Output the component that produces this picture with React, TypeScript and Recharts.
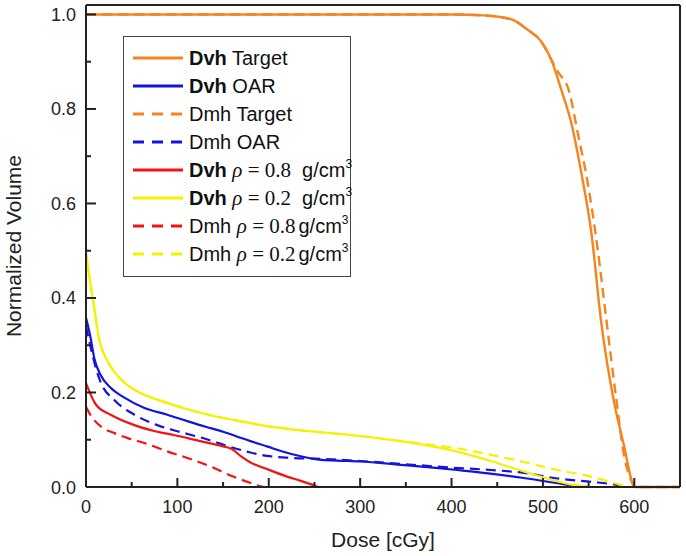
import { LineChart, Line, XAxis, YAxis } from 'recharts';

document.body.style.margin = '0';

type Pt = [number, number];

// [dose in cGy, normalized volume]
const DVH_TARGET: Pt[] = [
  [0, 1.0], [100, 1.0], [200, 1.0], [300, 1.0], [400, 1.0], [435, 0.998], [465, 0.99],
  [483, 0.968], [498, 0.943], [509, 0.905], [520, 0.841], [531, 0.771], [542, 0.665],
  [553, 0.538], [564, 0.345], [578, 0.178], [589, 0.085], [598, 0.008], [600, 0], [650, 0],
];

const DMH_TARGET: Pt[] = [
  [0, 1.0], [100, 1.0], [200, 1.0], [300, 1.0], [400, 1.0], [435, 0.998], [465, 0.99],
  [483, 0.968], [498, 0.943], [509, 0.905], [516, 0.88], [529, 0.835], [538, 0.75],
  [549, 0.644], [560, 0.502], [569, 0.36], [580, 0.19], [589, 0.064], [598, 0.008], [600, 0], [650, 0],
];

const DVH_OAR: Pt[] = [
  [0, 0.358], [5, 0.316], [9, 0.273], [16, 0.237], [27, 0.21], [42, 0.189], [64, 0.167],
  [89, 0.153], [110, 0.14], [130, 0.128], [150, 0.117], [165, 0.107], [180, 0.097],
  [198, 0.086], [215, 0.075], [235, 0.065], [255, 0.058], [275, 0.056], [300, 0.054],
  [344, 0.047], [380, 0.041], [406, 0.036], [440, 0.029], [479, 0.019], [516, 0.008],
  [538, 0.002], [550, 0], [650, 0],
];

const DMH_OAR: Pt[] = [
  [0, 0.34], [7, 0.28], [12, 0.244], [16, 0.222], [31, 0.184], [53, 0.153], [78, 0.131],
  [100, 0.118], [125, 0.105], [145, 0.093], [161, 0.083], [180, 0.073], [198, 0.066],
  [220, 0.062], [250, 0.06], [300, 0.055], [344, 0.049], [400, 0.041], [443, 0.036],
  [479, 0.03], [516, 0.018], [553, 0.011], [582, 0.004], [592, 0], [650, 0],
];

const DVH_RHO_08: Pt[] = [
  [0, 0.22], [11, 0.174], [27, 0.153], [53, 0.131], [78, 0.117], [96, 0.11], [125, 0.097],
  [150, 0.086], [160, 0.08], [169, 0.066], [180, 0.052], [198, 0.038], [220, 0.022],
  [235, 0.013], [249, 0.004], [255, 0], [650, 0],
];

const DVH_RHO_02: Pt[] = [
  [0, 0.495], [5, 0.428], [9, 0.379], [14, 0.316], [20, 0.28], [31, 0.244], [45, 0.216],
  [64, 0.195], [89, 0.178], [110, 0.165], [134, 0.153], [161, 0.142], [198, 0.129],
  [235, 0.12], [290, 0.11], [333, 0.1], [370, 0.089], [406, 0.075], [443, 0.055],
  [479, 0.033], [501, 0.02], [534, 0.004], [553, 0], [650, 0],
];

const DMH_RHO_08: Pt[] = [
  [0, 0.17], [5, 0.152], [17, 0.127], [31, 0.114], [45, 0.104], [67, 0.091], [88, 0.076],
  [110, 0.062], [125, 0.052], [145, 0.036], [161, 0.022], [178, 0.01], [190, 0.002],
  [195, 0], [650, 0],
];

const DMH_RHO_02: Pt[] = [
  [0, 0.495], [5, 0.428], [9, 0.379], [14, 0.316], [20, 0.28], [31, 0.244], [45, 0.216],
  [64, 0.195], [89, 0.178], [110, 0.165], [134, 0.153], [161, 0.142], [198, 0.129],
  [235, 0.12], [290, 0.11], [333, 0.1], [370, 0.091], [406, 0.082], [443, 0.068],
  [479, 0.053], [516, 0.036], [553, 0.022], [575, 0.01], [600, 0], [650, 0],
];

const X_TICKS = [0, 50, 100, 150, 200, 250, 300, 350, 400, 450, 500, 550, 600];
const Y_TICKS = [0, 0.1, 0.2, 0.3, 0.4, 0.5, 0.6, 0.7, 0.8, 0.9, 1.0];

const ORANGE = '#f5831f';
const BLUE = '#1414dc';
const RED = '#f01414';
const YELLOW = '#f5f200';
const INK = '#222222';

interface Series {
  key: string;
  method: 'Dvh' | 'Dmh';
  label?: string;
  rho?: string;
  color: string;
  dashed: boolean;
  width: number;
  points: Pt[];
}

const SERIES: Series[] = [
  { key: 'dvhTarget', method: 'Dvh', label: 'Target', color: ORANGE, dashed: false, width: 2.4, points: DVH_TARGET },
  { key: 'dvhOar', method: 'Dvh', label: 'OAR', color: BLUE, dashed: false, width: 2.2, points: DVH_OAR },
  { key: 'dmhTarget', method: 'Dmh', label: 'Target', color: ORANGE, dashed: true, width: 2.4, points: DMH_TARGET },
  { key: 'dmhOar', method: 'Dmh', label: 'OAR', color: BLUE, dashed: true, width: 2.2, points: DMH_OAR },
  { key: 'dvhRho08', method: 'Dvh', rho: '0.8', color: RED, dashed: false, width: 2.2, points: DVH_RHO_08 },
  { key: 'dvhRho02', method: 'Dvh', rho: '0.2', color: YELLOW, dashed: false, width: 2.2, points: DVH_RHO_02 },
  { key: 'dmhRho08', method: 'Dmh', rho: '0.8', color: RED, dashed: true, width: 2.2, points: DMH_RHO_08 },
  { key: 'dmhRho02', method: 'Dmh', rho: '0.2', color: YELLOW, dashed: true, width: 2.2, points: DMH_RHO_02 },
];

const SANS = '"Liberation Sans", Arial, sans-serif';
const SERIF = '"Liberation Serif", "Times New Roman", serif';
const TICK_FONT = { fontFamily: SANS, fontSize: 18, fill: '#222' };

// tick marks point into the plot; minor ticks are shorter and unlabelled
function BottomTick({ x, y, payload }: any) {
  const major = payload.value % 100 === 0;
  return (
    <g>
      <line x1={x} x2={x} y1={y} y2={y - (major ? 9 : 5)} stroke={INK} strokeWidth={2} />
      {major && (
        <text x={x} y={y + 26} textAnchor="middle" style={TICK_FONT}>
          {payload.value}
        </text>
      )}
    </g>
  );
}

function TopTick({ x, y, payload }: any) {
  const major = payload.value % 100 === 0;
  return <line x1={x} x2={x} y1={y} y2={y + (major ? 9 : 5)} stroke={INK} strokeWidth={2} />;
}

function LeftTick({ x, y, payload }: any) {
  const major = Math.round(payload.value * 10) % 2 === 0;
  return (
    <g>
      <line x1={x} x2={x + (major ? 10 : 5)} y1={y} y2={y} stroke={INK} strokeWidth={2} />
      {major && (
        <text x={x - 10} y={y + 6.5} textAnchor="end" style={TICK_FONT}>
          {payload.value.toFixed(1)}
        </text>
      )}
    </g>
  );
}

function RightTick({ x, y, payload }: any) {
  const major = Math.round(payload.value * 10) % 2 === 0;
  return <line x1={x} x2={x - (major ? 10 : 5)} y1={y} y2={y} stroke={INK} strokeWidth={2} />;
}

function SeriesLabel({ s }: { s: Series }) {
  const method = s.method === 'Dvh' ? <b>Dvh</b> : <span>Dmh</span>;
  if (s.label) {
    return (
      <span>
        {method} {s.label}
      </span>
    );
  }
  return (
    <span>
      {method}{' '}
      <span style={{ fontFamily: SERIF, fontSize: 21 }}>
        <i>ρ</i> = {s.rho}
      </span>
      <span style={{ marginLeft: s.method === 'Dvh' ? 11 : 3 }}>
        g/cm<span style={{ fontSize: 12, position: 'relative', top: -9 }}>3</span>
      </span>
    </span>
  );
}

function DoseLegend() {
  return (
    <div
      style={{
        position: 'absolute',
        left: 123,
        top: 36,
        width: 228,
        boxSizing: 'border-box',
        border: '1px solid #444',
        background: '#fff',
        padding: '7px 0 8px 9px',
        fontFamily: SANS,
        fontSize: 20,
        color: '#111',
      }}
    >
      {SERIES.map((s) => (
        <div key={s.key} style={{ display: 'flex', alignItems: 'center', height: 28, whiteSpace: 'nowrap' }}>
          <svg width={50} height={10} style={{ flex: 'none' }}>
            <path d="M0,5H50" stroke={s.color} strokeWidth={3} strokeDasharray={s.dashed ? '11 8' : undefined} />
          </svg>
          <span style={{ marginLeft: 6 }}>
            <SeriesLabel s={s} />
          </span>
        </div>
      ))}
    </div>
  );
}

export default function App() {
  return (
    <div style={{ position: 'relative', width: 686, height: 556 }}>
      <LineChart width={686} height={556} margin={{ top: 4, right: 5, bottom: 0, left: 0 }}>
        <XAxis
          type="number"
          dataKey="dose"
          domain={[0, 650]}
          ticks={X_TICKS}
          interval={0}
          tickLine={false}
          tickSize={0}
          tickMargin={0}
          tick={BottomTick}
          stroke={INK}
          strokeWidth={2}
          height={69}
          label={{
            value: 'Dose [cGy]',
            position: 'insideBottom',
            offset: 9,
            style: { fontFamily: SANS, fontSize: 21, fill: '#222' },
          }}
        />
        <XAxis
          xAxisId="top"
          orientation="top"
          type="number"
          dataKey="dose"
          domain={[0, 650]}
          ticks={X_TICKS}
          interval={0}
          tickLine={false}
          tickSize={0}
          tickMargin={0}
          tick={TopTick}
          stroke={INK}
          strokeWidth={2}
          height={1}
        />
        <YAxis
          type="number"
          domain={[0, 1.02]}
          ticks={Y_TICKS}
          interval={0}
          tickLine={false}
          tickSize={0}
          tickMargin={0}
          tick={LeftTick}
          stroke={INK}
          strokeWidth={2}
          width={86}
          label={{
            value: 'Normalized Volume',
            angle: -90,
            position: 'insideLeft',
            offset: 14,
            style: { fontFamily: SANS, fontSize: 21, fill: '#222', textAnchor: 'middle' },
          }}
        />
        <YAxis
          yAxisId="right"
          orientation="right"
          type="number"
          domain={[0, 1.02]}
          ticks={Y_TICKS}
          interval={0}
          tickLine={false}
          tickSize={0}
          tickMargin={0}
          tick={RightTick}
          stroke={INK}
          strokeWidth={2}
          width={1}
        />
        {SERIES.map((s) => (
          <Line
            key={s.key}
            name={s.key}
            data={s.points.map(([dose, v]) => ({ dose, v }))}
            dataKey="v"
            type="monotone"
            stroke={s.color}
            strokeWidth={s.width}
            strokeDasharray={s.dashed ? '10 6' : undefined}
            dot={false}
            activeDot={false}
            isAnimationActive={false}
          />
        ))}
      </LineChart>
      <DoseLegend />
    </div>
  );
}
